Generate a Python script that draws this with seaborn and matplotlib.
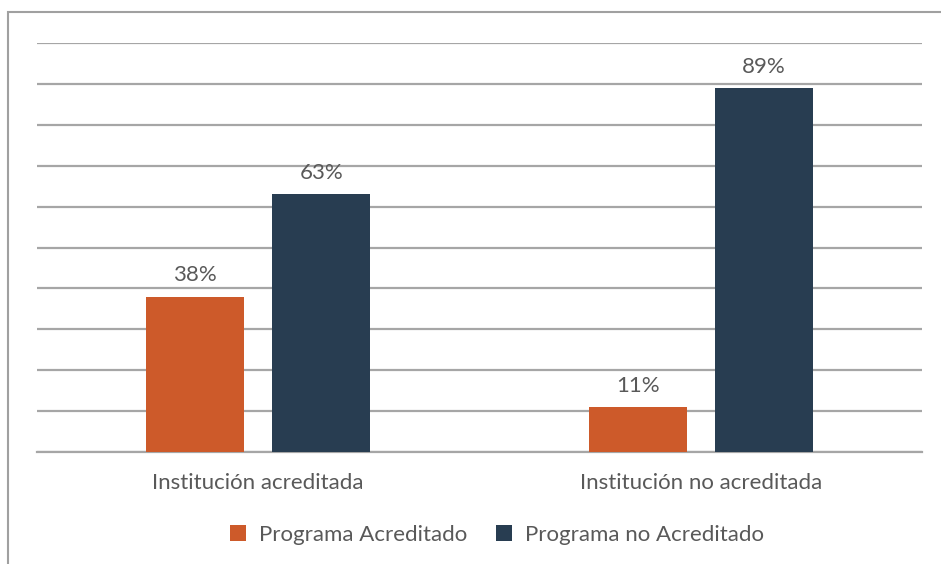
import matplotlib
matplotlib.use("Agg")
import matplotlib.pyplot as plt
import seaborn as sns
import pandas as pd
from matplotlib.patches import Rectangle, Patch

categories = ["Institución acreditada", "Institución no acreditada"]
series = ["Programa Acreditado", "Programa no Acreditado"]
acreditado = [38, 11]
no_acreditado = [63, 89]
colors = ["#CD5A2A", "#283D51"]

df = pd.DataFrame({
    "cat": categories * 2,
    "serie": [series[0]] * 2 + [series[1]] * 2,
    "val": acreditado + no_acreditado,
})

sns.set_theme(style="white")
plt.rcParams["font.family"] = ["Lato", "DejaVu Sans"]
text_color = "#595959"
grid_color = "#A6A6A6"
fs = 16

fig = plt.figure(figsize=(9.41, 5.64), dpi=100)
ax = fig.add_axes([37/941, 1-452/564, (922-37)/941, (452-43)/564])

sns.barplot(data=df, x="cat", y="val", hue="serie", palette=colors,
            saturation=1, width=0.57, gap=0.22, ax=ax, legend=False, zorder=3,
            edgecolor="none", linewidth=0)

ax.set_ylim(0, 100)
ax.set_xlim(-0.5, 1.5)
ax.set_yticks(range(0, 101, 10))
ax.yaxis.grid(True, color=grid_color, linewidth=1.6)
ax.set_axisbelow(True)
ax.tick_params(axis="y", left=False, labelleft=False)
ax.tick_params(axis="x", bottom=False, labelsize=fs, colors=text_color, pad=9)
for s in ["top", "right", "left"]:
    ax.spines[s].set_visible(False)
ax.spines["bottom"].set_color(grid_color)
ax.spines["bottom"].set_linewidth(1.6)
ax.set_xlabel("")
ax.set_ylabel("")

for cont in ax.containers:
    ax.bar_label(cont, labels=[f"{int(v)}%" for v in cont.datavalues],
                 padding=8, fontsize=fs, color=text_color)

handles = [Patch(facecolor=c, edgecolor="none") for c in colors]
fig.legend(handles, series, loc="center", bbox_to_anchor=(497/941, 1-535/564),
           ncol=2, frameon=False, fontsize=fs, labelcolor=text_color,
           handlelength=0.7, handleheight=0.7, handletextpad=0.6, columnspacing=1.3)

fig.patches.append(Rectangle((8/941, -0.1), 1.2, (564-12)/564 + 0.1,
                             transform=fig.transFigure, fill=False,
                             edgecolor="#A0A0A0", linewidth=1.5))

fig.savefig("out.png", dpi=100)
